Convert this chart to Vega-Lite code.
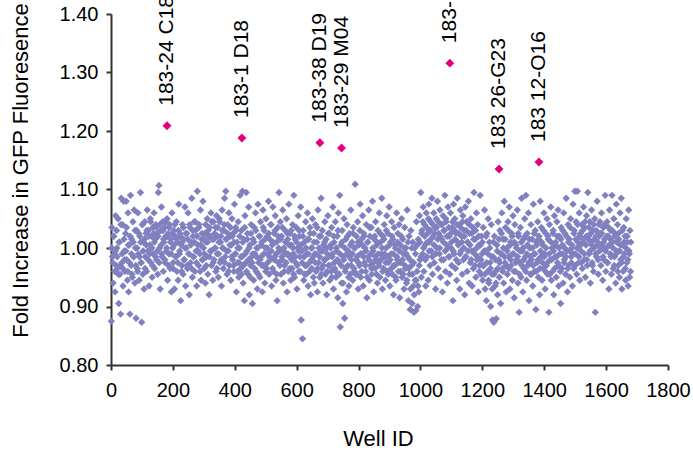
{
"$schema": "https://vega.github.io/schema/vega-lite/v6.json",
"width": 557,
"height": 351,
"autosize": "none",
"padding": {"left": 111, "top": 14, "right": 25, "bottom": 94},
"config": {
  "view": {"stroke": null},
  "font": "Liberation Sans",
  "axis": {"grid": false, "domainColor": "#333333", "domainWidth": 2, "tickColor": "#333333", "tickWidth": 2, "tickSize": 5, "labelFont": "Liberation Sans", "labelFontSize": 20, "labelColor": "#000000", "labelFlush": false, "labelOverlap": false, "titleFont": "Liberation Sans", "titleFontSize": 22, "titleFontWeight": "normal", "titleColor": "#000000"}
},
"datasets": {
"hits": [
{"well": 181, "fold": 1.209, "label": "183-24 C18"},
{"well": 423, "fold": 1.188, "label": "183-1 D18"},
{"well": 675, "fold": 1.180, "label": "183-38 D19"},
{"well": 745, "fold": 1.171, "label": "183-29 M04"},
{"well": 1095, "fold": 1.316, "label": "183-2"},
{"well": 1254, "fold": 1.135, "label": "183 26-G23"},
{"well": 1383, "fold": 1.147, "label": "183 12-O16"}
],
"wells": [
{"well":1,"fold":0.875},{"well":3,"fold":1.035},{"well":5,"fold":0.985},{"well":7,"fold":0.94},{"well":9,"fold":1.02},{"well":11,"fold":0.99},{"well":13,"fold":0.925},{"well":15,"fold":1.055},{"well":17,"fold":0.97},{"well":19,"fold":1.0},
{"well":21,"fold":0.965},{"well":23,"fold":1.05},{"well":25,"fold":0.905},{"well":27,"fold":1.01},{"well":29,"fold":0.955},{"well":31,"fold":0.887},{"well":33,"fold":1.085},{"well":35,"fold":0.975},{"well":37,"fold":1.04},{"well":39,"fold":0.935},
{"well":41,"fold":1.08},{"well":43,"fold":0.995},{"well":45,"fold":0.96},{"well":47,"fold":1.025},{"well":49,"fold":1.08},{"well":51,"fold":0.98},{"well":53,"fold":0.945},{"well":55,"fold":1.06},{"well":57,"fold":0.925},{"well":59,"fold":1.005},
{"well":61,"fold":0.887},{"well":63,"fold":1.09},{"well":65,"fold":0.97},{"well":67,"fold":1.015},{"well":69,"fold":0.95},{"well":71,"fold":1.045},{"well":73,"fold":0.985},{"well":75,"fold":1.065},{"well":77,"fold":0.94},{"well":79,"fold":1.0},
{"well":81,"fold":0.88},{"well":83,"fold":1.03},{"well":85,"fold":0.965},{"well":87,"fold":1.06},{"well":89,"fold":0.99},{"well":91,"fold":0.945},{"well":93,"fold":1.02},{"well":95,"fold":1.095},{"well":97,"fold":0.975},{"well":99,"fold":0.873},
{"well":101,"fold":1.04},{"well":103,"fold":0.955},{"well":105,"fold":1.01},{"well":107,"fold":0.93},{"well":109,"fold":1.045},{"well":111,"fold":0.985},{"well":113,"fold":1.025},{"well":115,"fold":0.96},{"well":117,"fold":1.065},{"well":119,"fold":0.995},
{"well":121,"fold":1.03},{"well":123,"fold":0.935},{"well":125,"fold":1.005},{"well":127,"fold":1.05},{"well":129,"fold":0.975},{"well":131,"fold":1.02},{"well":133,"fold":0.95},{"well":135,"fold":1.035},{"well":137,"fold":0.99},{"well":139,"fold":1.06},
{"well":141,"fold":0.965},{"well":143,"fold":1.015},{"well":145,"fold":1.04},{"well":147,"fold":0.98},{"well":149,"fold":1.025},{"well":151,"fold":0.955},{"well":153,"fold":1.095},{"well":155,"fold":1.107},{"well":157,"fold":1.0},{"well":159,"fold":0.93},
{"well":161,"fold":1.03},{"well":163,"fold":1.07},{"well":165,"fold":0.985},{"well":167,"fold":1.045},{"well":169,"fold":0.96},{"well":171,"fold":1.01},{"well":173,"fold":1.035},{"well":175,"fold":0.975},{"well":177,"fold":1.02},{"well":179,"fold":0.995},
{"well":181,"fold":1.05},{"well":183,"fold":0.945},{"well":185,"fold":1.025},{"well":187,"fold":0.99},{"well":189,"fold":1.04},{"well":191,"fold":0.965},{"well":193,"fold":1.015},{"well":195,"fold":0.925},{"well":197,"fold":1.06},{"well":199,"fold":1.0},
{"well":201,"fold":0.975},{"well":203,"fold":1.03},{"well":205,"fold":0.93},{"well":207,"fold":1.02},{"well":209,"fold":0.985},{"well":211,"fold":1.045},{"well":213,"fold":0.96},{"well":215,"fold":1.01},{"well":217,"fold":0.945},{"well":219,"fold":1.075},
{"well":221,"fold":0.99},{"well":223,"fold":1.025},{"well":225,"fold":0.91},{"well":227,"fold":1.005},{"well":229,"fold":0.97},{"well":231,"fold":1.04},{"well":233,"fold":0.955},{"well":235,"fold":1.015},{"well":237,"fold":0.98},{"well":239,"fold":1.07},
{"well":241,"fold":0.935},{"well":243,"fold":1.0},{"well":245,"fold":1.025},{"well":247,"fold":0.965},{"well":249,"fold":1.06},{"well":251,"fold":0.99},{"well":253,"fold":0.92},{"well":255,"fold":1.035},{"well":257,"fold":0.975},{"well":259,"fold":1.01},
{"well":261,"fold":1.085},{"well":263,"fold":0.95},{"well":265,"fold":1.02},{"well":267,"fold":0.985},{"well":269,"fold":1.045},{"well":271,"fold":0.96},{"well":273,"fold":1.03},{"well":275,"fold":0.995},{"well":277,"fold":0.935},{"well":279,"fold":1.097},
{"well":281,"fold":1.005},{"well":283,"fold":0.97},{"well":285,"fold":1.04},{"well":287,"fold":0.99},{"well":289,"fold":1.065},{"well":291,"fold":0.945},{"well":293,"fold":1.015},{"well":295,"fold":0.98},{"well":297,"fold":1.08},{"well":299,"fold":1.0},
{"well":301,"fold":0.965},{"well":303,"fold":1.025},{"well":305,"fold":0.94},{"well":307,"fold":1.01},{"well":309,"fold":0.985},{"well":311,"fold":1.05},{"well":313,"fold":0.955},{"well":315,"fold":1.02},{"well":317,"fold":0.92},{"well":319,"fold":1.035},
{"well":321,"fold":0.995},{"well":323,"fold":1.06},{"well":325,"fold":0.97},{"well":327,"fold":1.015},{"well":329,"fold":0.945},{"well":331,"fold":1.045},{"well":333,"fold":0.98},{"well":335,"fold":1.025},{"well":337,"fold":1.0},{"well":339,"fold":0.96},
{"well":341,"fold":1.055},{"well":343,"fold":0.99},{"well":345,"fold":1.035},{"well":347,"fold":0.95},{"well":349,"fold":1.01},{"well":351,"fold":1.045},{"well":353,"fold":0.975},{"well":355,"fold":1.02},{"well":357,"fold":0.935},{"well":359,"fold":1.065},
{"well":361,"fold":1.0},{"well":363,"fold":0.965},{"well":365,"fold":1.03},{"well":367,"fold":1.085},{"well":369,"fold":0.985},{"well":371,"fold":1.097},{"well":373,"fold":1.015},{"well":375,"fold":0.955},{"well":377,"fold":1.04},{"well":379,"fold":0.995},
{"well":381,"fold":1.06},{"well":383,"fold":0.97},{"well":385,"fold":1.02},{"well":387,"fold":0.945},{"well":389,"fold":1.005},{"well":391,"fold":1.05},{"well":393,"fold":0.98},{"well":395,"fold":1.025},{"well":397,"fold":0.96},{"well":399,"fold":1.075},
{"well":401,"fold":0.99},{"well":403,"fold":1.035},{"well":405,"fold":0.925},{"well":407,"fold":1.01},{"well":409,"fold":0.975},{"well":411,"fold":1.045},{"well":413,"fold":0.95},{"well":415,"fold":1.0},{"well":417,"fold":1.09},{"well":419,"fold":0.965},
{"well":421,"fold":1.03},{"well":423,"fold":0.985},{"well":425,"fold":1.097},{"well":427,"fold":0.94},{"well":429,"fold":1.015},{"well":431,"fold":0.91},{"well":433,"fold":1.055},{"well":435,"fold":0.975},{"well":437,"fold":1.095},{"well":439,"fold":0.995},
{"well":441,"fold":1.025},{"well":443,"fold":0.955},{"well":445,"fold":1.07},{"well":447,"fold":0.92},{"well":449,"fold":1.005},{"well":451,"fold":0.97},{"well":453,"fold":1.04},{"well":455,"fold":0.985},{"well":457,"fold":0.905},{"well":459,"fold":1.015},
{"well":461,"fold":0.945},{"well":463,"fold":1.035},{"well":465,"fold":0.99},{"well":467,"fold":1.06},{"well":469,"fold":0.96},{"well":471,"fold":1.0},{"well":473,"fold":0.93},{"well":475,"fold":1.075},{"well":477,"fold":0.975},{"well":479,"fold":1.02},
{"well":481,"fold":0.95},{"well":483,"fold":1.045},{"well":485,"fold":0.985},{"well":487,"fold":1.01},{"well":489,"fold":0.925},{"well":491,"fold":1.065},{"well":493,"fold":0.97},{"well":495,"fold":1.03},{"well":497,"fold":0.94},{"well":499,"fold":1.0},
{"well":501,"fold":1.05},{"well":503,"fold":0.965},{"well":505,"fold":1.02},{"well":507,"fold":0.99},{"well":509,"fold":1.08},{"well":511,"fold":0.955},{"well":513,"fold":1.015},{"well":515,"fold":0.98},{"well":517,"fold":1.04},{"well":519,"fold":0.935},
{"well":521,"fold":1.005},{"well":523,"fold":1.07},{"well":525,"fold":0.96},{"well":527,"fold":1.025},{"well":529,"fold":0.985},{"well":531,"fold":1.055},{"well":533,"fold":0.945},{"well":535,"fold":1.01},{"well":537,"fold":0.91},{"well":539,"fold":1.035},
{"well":541,"fold":0.975},{"well":543,"fold":1.095},{"well":545,"fold":0.995},{"well":547,"fold":1.045},{"well":549,"fold":0.955},{"well":551,"fold":1.02},{"well":553,"fold":0.98},{"well":555,"fold":1.065},{"well":557,"fold":0.94},{"well":559,"fold":1.0},
{"well":561,"fold":0.97},{"well":563,"fold":1.03},{"well":565,"fold":0.99},{"well":567,"fold":1.05},{"well":569,"fold":0.925},{"well":571,"fold":1.015},{"well":573,"fold":0.96},{"well":575,"fold":1.075},{"well":577,"fold":0.985},{"well":579,"fold":1.025},
{"well":581,"fold":0.945},{"well":583,"fold":1.005},{"well":585,"fold":0.965},{"well":587,"fold":1.04},{"well":589,"fold":0.99},{"well":591,"fold":1.09},{"well":593,"fold":0.95},{"well":595,"fold":1.015},{"well":597,"fold":0.975},{"well":599,"fold":1.035},
{"well":601,"fold":0.93},{"well":603,"fold":1.0},{"well":605,"fold":1.055},{"well":607,"fold":0.96},{"well":609,"fold":1.02},{"well":611,"fold":0.985},{"well":613,"fold":1.07},{"well":615,"fold":0.877},{"well":617,"fold":0.995},{"well":619,"fold":0.845},
{"well":621,"fold":1.03},{"well":623,"fold":0.945},{"well":625,"fold":1.01},{"well":627,"fold":0.97},{"well":629,"fold":1.045},{"well":631,"fold":0.955},{"well":633,"fold":0.99},{"well":635,"fold":1.06},{"well":637,"fold":0.935},{"well":639,"fold":1.015},
{"well":641,"fold":0.975},{"well":643,"fold":1.035},{"well":645,"fold":0.92},{"well":647,"fold":1.0},{"well":649,"fold":0.965},{"well":651,"fold":1.05},{"well":653,"fold":0.985},{"well":655,"fold":1.025},{"well":657,"fold":0.94},{"well":659,"fold":0.99},
{"well":661,"fold":1.04},{"well":663,"fold":0.96},{"well":665,"fold":1.01},{"well":667,"fold":0.925},{"well":669,"fold":1.065},{"well":671,"fold":0.975},{"well":673,"fold":1.02},{"well":675,"fold":0.95},{"well":677,"fold":0.995},{"well":679,"fold":1.085},
{"well":681,"fold":0.965},{"well":683,"fold":1.03},{"well":685,"fold":0.94},{"well":687,"fold":1.005},{"well":689,"fold":0.98},{"well":691,"fold":1.045},{"well":693,"fold":0.955},{"well":695,"fold":1.015},{"well":697,"fold":0.92},{"well":699,"fold":0.99},
{"well":701,"fold":1.055},{"well":703,"fold":0.97},{"well":705,"fold":1.025},{"well":707,"fold":0.945},{"well":709,"fold":1.0},{"well":711,"fold":0.96},{"well":713,"fold":1.035},{"well":715,"fold":0.985},{"well":717,"fold":1.07},{"well":719,"fold":0.93},
{"well":721,"fold":1.01},{"well":723,"fold":0.965},{"well":725,"fold":1.045},{"well":727,"fold":0.95},{"well":729,"fold":0.995},{"well":731,"fold":1.02},{"well":733,"fold":0.915},{"well":735,"fold":1.06},{"well":737,"fold":0.975},{"well":739,"fold":1.09},
{"well":741,"fold":0.865},{"well":743,"fold":1.005},{"well":745,"fold":0.94},{"well":747,"fold":1.03},{"well":749,"fold":0.905},{"well":751,"fold":0.985},{"well":753,"fold":1.05},{"well":755,"fold":0.88},{"well":757,"fold":0.96},{"well":759,"fold":1.015},
{"well":761,"fold":0.925},{"well":763,"fold":1.04},{"well":765,"fold":0.97},{"well":767,"fold":0.995},{"well":769,"fold":0.935},{"well":771,"fold":1.025},{"well":773,"fold":0.955},{"well":775,"fold":1.065},{"well":777,"fold":0.98},{"well":779,"fold":1.01},
{"well":781,"fold":0.945},{"well":783,"fold":1.035},{"well":785,"fold":0.965},{"well":787,"fold":1.0},{"well":789,"fold":1.109},{"well":791,"fold":0.955},{"well":793,"fold":1.02},{"well":795,"fold":0.985},{"well":797,"fold":1.045},{"well":799,"fold":0.93},
{"well":801,"fold":1.005},{"well":803,"fold":0.97},{"well":805,"fold":1.075},{"well":807,"fold":0.95},{"well":809,"fold":1.015},{"well":811,"fold":0.99},{"well":813,"fold":1.055},{"well":815,"fold":0.935},{"well":817,"fold":1.025},{"well":819,"fold":0.975},
{"well":821,"fold":1.0},{"well":823,"fold":0.96},{"well":825,"fold":1.04},{"well":827,"fold":0.915},{"well":829,"fold":1.01},{"well":831,"fold":0.985},{"well":833,"fold":1.065},{"well":835,"fold":0.945},{"well":837,"fold":1.02},{"well":839,"fold":0.97},
{"well":841,"fold":1.035},{"well":843,"fold":0.955},{"well":845,"fold":1.08},{"well":847,"fold":0.995},{"well":849,"fold":0.925},{"well":851,"fold":1.015},{"well":853,"fold":0.965},{"well":855,"fold":1.045},{"well":857,"fold":0.98},{"well":859,"fold":1.005},
{"well":861,"fold":0.94},{"well":863,"fold":1.03},{"well":865,"fold":0.975},{"well":867,"fold":1.06},{"well":869,"fold":0.95},{"well":871,"fold":1.01},{"well":873,"fold":0.99},{"well":875,"fold":1.085},{"well":877,"fold":0.93},{"well":879,"fold":1.02},
{"well":881,"fold":0.965},{"well":883,"fold":1.04},{"well":885,"fold":0.985},{"well":887,"fold":0.945},{"well":889,"fold":1.0},{"well":891,"fold":1.055},{"well":893,"fold":0.96},{"well":895,"fold":1.025},{"well":897,"fold":0.975},{"well":899,"fold":1.07},
{"well":901,"fold":0.935},{"well":903,"fold":1.01},{"well":905,"fold":0.99},{"well":907,"fold":1.045},{"well":909,"fold":0.955},{"well":911,"fold":1.015},{"well":913,"fold":0.92},{"well":915,"fold":1.035},{"well":917,"fold":0.97},{"well":919,"fold":1.0},
{"well":921,"fold":0.945},{"well":923,"fold":1.06},{"well":925,"fold":0.98},{"well":927,"fold":1.025},{"well":929,"fold":0.96},{"well":931,"fold":1.04},{"well":933,"fold":0.915},{"well":935,"fold":1.005},{"well":937,"fold":0.975},{"well":939,"fold":1.05},
{"well":941,"fold":0.95},{"well":943,"fold":1.015},{"well":945,"fold":0.99},{"well":947,"fold":0.93},{"well":949,"fold":1.035},{"well":951,"fold":0.965},{"well":953,"fold":1.0},{"well":955,"fold":0.94},{"well":957,"fold":1.065},{"well":959,"fold":0.985},
{"well":961,"fold":0.91},{"well":963,"fold":1.02},{"well":965,"fold":0.955},{"well":967,"fold":0.895},{"well":969,"fold":1.03},{"well":971,"fold":0.97},{"well":973,"fold":0.905},{"well":975,"fold":1.01},{"well":977,"fold":0.935},{"well":979,"fold":0.89},
{"well":981,"fold":1.0},{"well":983,"fold":0.945},{"well":985,"fold":0.893},{"well":987,"fold":1.045},{"well":989,"fold":0.96},{"well":991,"fold":0.9},{"well":993,"fold":1.015},{"well":995,"fold":0.925},{"well":997,"fold":1.055},{"well":999,"fold":0.98},
{"well":1001,"fold":1.095},{"well":1003,"fold":0.95},{"well":1005,"fold":1.03},{"well":1007,"fold":0.99},{"well":1009,"fold":1.07},{"well":1011,"fold":0.96},{"well":1013,"fold":1.04},{"well":1015,"fold":1.005},{"well":1017,"fold":0.935},{"well":1019,"fold":1.06},
{"well":1021,"fold":0.985},{"well":1023,"fold":1.025},{"well":1025,"fold":0.945},{"well":1027,"fold":1.075},{"well":1029,"fold":1.01},{"well":1031,"fold":0.97},{"well":1033,"fold":1.045},{"well":1035,"fold":0.995},{"well":1037,"fold":1.085},{"well":1039,"fold":0.955},
{"well":1041,"fold":1.02},{"well":1043,"fold":1.06},{"well":1045,"fold":0.975},{"well":1047,"fold":1.035},{"well":1049,"fold":0.93},{"well":1051,"fold":1.05},{"well":1053,"fold":1.0},{"well":1055,"fold":1.08},{"well":1057,"fold":0.965},{"well":1059,"fold":1.025},
{"well":1061,"fold":0.99},{"well":1063,"fold":1.065},{"well":1065,"fold":0.95},{"well":1067,"fold":1.04},{"well":1069,"fold":1.015},{"well":1071,"fold":0.925},{"well":1073,"fold":1.055},{"well":1075,"fold":0.98},{"well":1077,"fold":1.03},{"well":1079,"fold":1.09},
{"well":1081,"fold":0.96},{"well":1083,"fold":1.045},{"well":1085,"fold":1.005},{"well":1087,"fold":0.94},{"well":1089,"fold":1.07},{"well":1091,"fold":0.985},{"well":1093,"fold":1.02},{"well":1095,"fold":0.955},{"well":1097,"fold":1.06},{"well":1099,"fold":1.0},
{"well":1101,"fold":0.97},{"well":1103,"fold":1.035},{"well":1105,"fold":0.91},{"well":1107,"fold":1.075},{"well":1109,"fold":0.99},{"well":1111,"fold":1.05},{"well":1113,"fold":0.965},{"well":1115,"fold":1.025},{"well":1117,"fold":0.945},{"well":1119,"fold":1.085},
{"well":1121,"fold":1.01},{"well":1123,"fold":0.975},{"well":1125,"fold":1.04},{"well":1127,"fold":0.93},{"well":1129,"fold":1.065},{"well":1131,"fold":0.995},{"well":1133,"fold":1.02},{"well":1135,"fold":0.955},{"well":1137,"fold":1.055},{"well":1139,"fold":0.98},
{"well":1141,"fold":1.03},{"well":1143,"fold":0.92},{"well":1145,"fold":1.07},{"well":1147,"fold":0.985},{"well":1149,"fold":1.045},{"well":1151,"fold":0.96},{"well":1153,"fold":1.01},{"well":1155,"fold":1.08},{"well":1157,"fold":0.94},{"well":1159,"fold":1.025},
{"well":1161,"fold":0.975},{"well":1163,"fold":1.05},{"well":1165,"fold":0.995},{"well":1167,"fold":0.935},{"well":1169,"fold":1.035},{"well":1171,"fold":0.965},{"well":1173,"fold":1.095},{"well":1175,"fold":0.99},{"well":1177,"fold":1.015},{"well":1179,"fold":0.95},
{"well":1181,"fold":1.06},{"well":1183,"fold":0.98},{"well":1185,"fold":1.04},{"well":1187,"fold":0.925},{"well":1189,"fold":1.005},{"well":1191,"fold":0.97},{"well":1193,"fold":1.09},{"well":1195,"fold":0.955},{"well":1197,"fold":1.02},{"well":1199,"fold":0.99},
{"well":1201,"fold":0.945},{"well":1203,"fold":1.035},{"well":1205,"fold":0.97},{"well":1207,"fold":1.065},{"well":1209,"fold":0.93},{"well":1211,"fold":0.995},{"well":1213,"fold":0.91},{"well":1215,"fold":1.025},{"well":1217,"fold":0.96},{"well":1219,"fold":1.05},
{"well":1221,"fold":0.94},{"well":1223,"fold":1.01},{"well":1225,"fold":0.975},{"well":1227,"fold":0.9},{"well":1229,"fold":1.04},{"well":1231,"fold":0.955},{"well":1233,"fold":0.877},{"well":1235,"fold":0.985},{"well":1237,"fold":0.873},{"well":1239,"fold":1.02},
{"well":1241,"fold":0.935},{"well":1243,"fold":0.96},{"well":1245,"fold":0.879},{"well":1247,"fold":1.005},{"well":1249,"fold":0.92},{"well":1251,"fold":1.045},{"well":1253,"fold":0.98},{"well":1255,"fold":0.95},{"well":1257,"fold":1.03},{"well":1259,"fold":0.905},
{"well":1261,"fold":0.99},{"well":1263,"fold":1.06},{"well":1265,"fold":0.965},{"well":1267,"fold":1.015},{"well":1269,"fold":0.94},{"well":1271,"fold":1.08},{"well":1273,"fold":0.975},{"well":1275,"fold":1.035},{"well":1277,"fold":0.925},{"well":1279,"fold":1.0},
{"well":1281,"fold":0.955},{"well":1283,"fold":1.045},{"well":1285,"fold":0.985},{"well":1287,"fold":1.07},{"well":1289,"fold":0.93},{"well":1291,"fold":1.01},{"well":1293,"fold":0.97},{"well":1295,"fold":1.025},{"well":1297,"fold":0.945},{"well":1299,"fold":1.055},
{"well":1301,"fold":0.99},{"well":1303,"fold":0.915},{"well":1305,"fold":1.04},{"well":1307,"fold":0.96},{"well":1309,"fold":1.005},{"well":1311,"fold":0.98},{"well":1313,"fold":1.065},{"well":1315,"fold":0.94},{"well":1317,"fold":1.02},{"well":1319,"fold":0.89},
{"well":1321,"fold":0.975},{"well":1323,"fold":1.035},{"well":1325,"fold":0.95},{"well":1327,"fold":1.085},{"well":1329,"fold":0.995},{"well":1331,"fold":0.925},{"well":1333,"fold":1.015},{"well":1335,"fold":0.965},{"well":1337,"fold":1.05},{"well":1339,"fold":0.985},
{"well":1341,"fold":1.09},{"well":1343,"fold":0.945},{"well":1345,"fold":1.025},{"well":1347,"fold":0.97},{"well":1349,"fold":1.06},{"well":1351,"fold":0.91},{"well":1353,"fold":1.0},{"well":1355,"fold":0.955},{"well":1357,"fold":1.04},{"well":1359,"fold":0.98},
{"well":1361,"fold":1.015},{"well":1363,"fold":0.935},{"well":1365,"fold":1.075},{"well":1367,"fold":0.99},{"well":1369,"fold":0.96},{"well":1371,"fold":1.03},{"well":1373,"fold":0.895},{"well":1375,"fold":1.01},{"well":1377,"fold":0.975},{"well":1379,"fold":1.045},
{"well":1381,"fold":0.95},{"well":1383,"fold":1.02},{"well":1385,"fold":0.92},{"well":1387,"fold":1.08},{"well":1389,"fold":0.985},{"well":1391,"fold":1.035},{"well":1393,"fold":0.945},{"well":1395,"fold":1.005},{"well":1397,"fold":0.965},{"well":1399,"fold":1.06},
{"well":1401,"fold":0.99},{"well":1403,"fold":0.93},{"well":1405,"fold":1.025},{"well":1407,"fold":0.97},{"well":1409,"fold":1.05},{"well":1411,"fold":0.955},{"well":1413,"fold":1.015},{"well":1415,"fold":0.89},{"well":1417,"fold":1.04},{"well":1419,"fold":0.98},
{"well":1421,"fold":1.07},{"well":1423,"fold":0.945},{"well":1425,"fold":1.0},{"well":1427,"fold":0.96},{"well":1429,"fold":1.03},{"well":1431,"fold":0.92},{"well":1433,"fold":1.055},{"well":1435,"fold":0.985},{"well":1437,"fold":1.01},{"well":1439,"fold":0.95},
{"well":1441,"fold":1.045},{"well":1443,"fold":0.975},{"well":1445,"fold":1.065},{"well":1447,"fold":0.935},{"well":1449,"fold":1.02},{"well":1451,"fold":0.99},{"well":1453,"fold":0.905},{"well":1455,"fold":1.035},{"well":1457,"fold":0.965},{"well":1459,"fold":1.005},
{"well":1461,"fold":0.94},{"well":1463,"fold":1.06},{"well":1465,"fold":0.98},{"well":1467,"fold":1.025},{"well":1469,"fold":0.955},{"well":1471,"fold":1.085},{"well":1473,"fold":0.995},{"well":1475,"fold":0.925},{"well":1477,"fold":1.04},{"well":1479,"fold":0.97},
{"well":1481,"fold":1.015},{"well":1483,"fold":0.95},{"well":1485,"fold":1.05},{"well":1487,"fold":0.985},{"well":1489,"fold":1.0},{"well":1491,"fold":0.935},{"well":1493,"fold":1.075},{"well":1495,"fold":0.965},{"well":1497,"fold":1.03},{"well":1499,"fold":1.097},
{"well":1501,"fold":0.99},{"well":1503,"fold":1.045},{"well":1505,"fold":0.955},{"well":1507,"fold":1.097},{"well":1509,"fold":1.01},{"well":1511,"fold":0.975},{"well":1513,"fold":1.06},{"well":1515,"fold":0.945},{"well":1517,"fold":1.025},{"well":1519,"fold":0.995},
{"well":1521,"fold":1.04},{"well":1523,"fold":0.965},{"well":1525,"fold":1.015},{"well":1527,"fold":1.07},{"well":1529,"fold":0.98},{"well":1531,"fold":1.035},{"well":1533,"fold":0.95},{"well":1535,"fold":1.005},{"well":1537,"fold":1.055},{"well":1539,"fold":0.97},
{"well":1541,"fold":1.095},{"well":1543,"fold":1.02},{"well":1545,"fold":0.99},{"well":1547,"fold":1.045},{"well":1549,"fold":0.94},{"well":1551,"fold":1.01},{"well":1553,"fold":1.065},{"well":1555,"fold":0.975},{"well":1557,"fold":1.03},{"well":1559,"fold":0.96},
{"well":1561,"fold":1.0},{"well":1563,"fold":1.05},{"well":1565,"fold":0.89},{"well":1567,"fold":1.02},{"well":1569,"fold":0.985},{"well":1571,"fold":1.08},{"well":1573,"fold":1.01},{"well":1575,"fold":0.955},{"well":1577,"fold":1.04},{"well":1579,"fold":0.995},
{"well":1581,"fold":1.025},{"well":1583,"fold":0.97},{"well":1585,"fold":1.06},{"well":1587,"fold":1.005},{"well":1589,"fold":0.945},{"well":1591,"fold":1.035},{"well":1593,"fold":0.98},{"well":1595,"fold":1.015},{"well":1597,"fold":1.09},{"well":1599,"fold":0.96},
{"well":1601,"fold":1.0},{"well":1603,"fold":1.045},{"well":1605,"fold":0.975},{"well":1607,"fold":1.02},{"well":1609,"fold":0.93},{"well":1611,"fold":1.065},{"well":1613,"fold":0.99},{"well":1615,"fold":1.03},{"well":1617,"fold":0.955},{"well":1619,"fold":1.09},
{"well":1621,"fold":1.01},{"well":1623,"fold":0.965},{"well":1625,"fold":1.05},{"well":1627,"fold":0.985},{"well":1629,"fold":1.025},{"well":1631,"fold":0.94},{"well":1633,"fold":1.075},{"well":1635,"fold":0.995},{"well":1637,"fold":1.04},{"well":1639,"fold":0.97},
{"well":1641,"fold":1.015},{"well":1643,"fold":0.95},{"well":1645,"fold":1.06},{"well":1647,"fold":0.98},{"well":1649,"fold":1.085},{"well":1651,"fold":0.93},{"well":1653,"fold":1.005},{"well":1655,"fold":0.96},{"well":1657,"fold":1.035},{"well":1659,"fold":0.99},
{"well":1661,"fold":1.02},{"well":1663,"fold":0.945},{"well":1665,"fold":1.05},{"well":1667,"fold":0.975},{"well":1669,"fold":1.01},{"well":1671,"fold":0.935},{"well":1673,"fold":1.065},{"well":1675,"fold":0.99},{"well":1677,"fold":1.03},{"well":1679,"fold":0.96},
{"well":2,"fold":1.0},{"well":6,"fold":0.975},{"well":8,"fold":1.02},{"well":12,"fold":0.96},{"well":14,"fold":0.995},{"well":18,"fold":1.03},{"well":20,"fold":0.985},{"well":24,"fold":0.955},{"well":26,"fold":1.01},{"well":30,"fold":0.97},
{"well":32,"fold":1.04},{"well":36,"fold":0.99},{"well":38,"fold":0.965},{"well":42,"fold":1.015},{"well":44,"fold":0.98},{"well":48,"fold":0.995},{"well":50,"fold":1.035},{"well":54,"fold":0.96},{"well":56,"fold":1.005},{"well":60,"fold":0.975},
{"well":62,"fold":1.02},{"well":66,"fold":0.99},{"well":68,"fold":0.955},{"well":72,"fold":1.01},{"well":74,"fold":0.985},{"well":78,"fold":1.03},{"well":80,"fold":0.97},{"well":84,"fold":1.0},{"well":86,"fold":0.96},{"well":90,"fold":1.025},
{"well":92,"fold":0.985},{"well":96,"fold":1.01},{"well":98,"fold":0.975},{"well":102,"fold":1.04},{"well":104,"fold":0.995},{"well":108,"fold":1.015},{"well":110,"fold":0.965},{"well":114,"fold":1.005},{"well":116,"fold":1.03},{"well":120,"fold":0.98},
{"well":122,"fold":1.02},{"well":126,"fold":0.99},{"well":128,"fold":1.045},{"well":132,"fold":1.0},{"well":134,"fold":0.97},{"well":138,"fold":1.025},{"well":140,"fold":1.01},{"well":144,"fold":0.985},{"well":146,"fold":1.035},{"well":150,"fold":0.995},
{"well":152,"fold":1.02},{"well":156,"fold":0.975},{"well":158,"fold":1.04},{"well":162,"fold":1.005},{"well":164,"fold":0.99},{"well":168,"fold":1.03},{"well":170,"fold":1.015},{"well":174,"fold":0.98},{"well":176,"fold":1.045},{"well":180,"fold":1.0},
{"well":182,"fold":1.02},{"well":186,"fold":0.97},{"well":188,"fold":1.035},{"well":192,"fold":1.01},{"well":194,"fold":0.99},{"well":198,"fold":1.025},{"well":200,"fold":0.965},{"well":204,"fold":1.005},{"well":206,"fold":1.04},{"well":210,"fold":0.985},
{"well":212,"fold":1.015},{"well":216,"fold":0.975},{"well":218,"fold":1.03},{"well":222,"fold":0.995},{"well":224,"fold":1.02},{"well":228,"fold":0.96},{"well":230,"fold":1.01},{"well":234,"fold":1.035},{"well":236,"fold":0.98},{"well":240,"fold":1.0},
{"well":242,"fold":1.025},{"well":246,"fold":0.97},{"well":248,"fold":1.015},{"well":252,"fold":0.99},{"well":254,"fold":1.04},{"well":258,"fold":1.005},{"well":260,"fold":0.965},{"well":264,"fold":1.03},{"well":266,"fold":0.985},{"well":270,"fold":1.01},
{"well":272,"fold":1.045},{"well":276,"fold":0.975},{"well":278,"fold":1.02},{"well":282,"fold":0.995},{"well":284,"fold":1.035},{"well":288,"fold":0.96},{"well":290,"fold":1.005},{"well":294,"fold":1.025},{"well":296,"fold":0.98},{"well":300,"fold":1.015},
{"well":302,"fold":0.99},{"well":306,"fold":1.04},{"well":308,"fold":0.97},{"well":312,"fold":1.01},{"well":314,"fold":1.03},{"well":318,"fold":0.985},{"well":320,"fold":1.02},{"well":324,"fold":0.995},{"well":326,"fold":1.045},{"well":330,"fold":0.975},
{"well":332,"fold":1.015},{"well":336,"fold":1.0},{"well":338,"fold":1.035},{"well":342,"fold":0.965},{"well":344,"fold":1.02},{"well":348,"fold":0.99},{"well":350,"fold":1.05},{"well":354,"fold":1.01},{"well":356,"fold":0.98},{"well":360,"fold":1.03},
{"well":362,"fold":1.0},{"well":366,"fold":1.04},{"well":368,"fold":0.975},{"well":372,"fold":1.015},{"well":374,"fold":0.995},{"well":378,"fold":1.025},{"well":380,"fold":0.96},{"well":384,"fold":1.005},{"well":386,"fold":1.035},{"well":390,"fold":0.985},
{"well":392,"fold":1.02},{"well":396,"fold":0.97},{"well":398,"fold":1.01},{"well":402,"fold":0.99},{"well":404,"fold":1.03},{"well":408,"fold":0.96},{"well":410,"fold":1.0},{"well":414,"fold":0.975},{"well":416,"fold":1.02},{"well":420,"fold":0.985},
{"well":422,"fold":0.955},{"well":426,"fold":1.01},{"well":428,"fold":0.97},{"well":432,"fold":1.035},{"well":434,"fold":0.99},{"well":438,"fold":0.96},{"well":440,"fold":1.015},{"well":444,"fold":0.98},{"well":446,"fold":1.0},{"well":450,"fold":0.95},
{"well":452,"fold":1.025},{"well":456,"fold":0.975},{"well":458,"fold":0.99},{"well":462,"fold":1.01},{"well":464,"fold":0.965},{"well":468,"fold":1.03},{"well":470,"fold":0.985},{"well":474,"fold":1.0},{"well":476,"fold":0.955},{"well":480,"fold":1.02},
{"well":482,"fold":0.98},{"well":486,"fold":1.005},{"well":488,"fold":0.97},{"well":492,"fold":1.035},{"well":494,"fold":0.99},{"well":498,"fold":1.015},{"well":500,"fold":0.96},{"well":504,"fold":1.0},{"well":506,"fold":0.975},{"well":510,"fold":1.025},
{"well":512,"fold":0.985},{"well":516,"fold":1.04},{"well":518,"fold":0.995},{"well":522,"fold":0.965},{"well":524,"fold":1.01},{"well":528,"fold":0.98},{"well":530,"fold":1.03},{"well":534,"fold":0.99},{"well":536,"fold":0.955},{"well":540,"fold":1.02},
{"well":542,"fold":1.0},{"well":546,"fold":0.97},{"well":548,"fold":1.015},{"well":552,"fold":0.985},{"well":554,"fold":1.035},{"well":558,"fold":0.995},{"well":560,"fold":0.96},{"well":564,"fold":1.01},{"well":566,"fold":0.975},{"well":570,"fold":1.025},
{"well":572,"fold":0.99},{"well":576,"fold":1.005},{"well":578,"fold":0.965},{"well":582,"fold":1.03},{"well":584,"fold":0.98},{"well":588,"fold":1.0},{"well":590,"fold":0.955},{"well":594,"fold":1.02},{"well":596,"fold":0.985},{"well":600,"fold":1.01},
{"well":602,"fold":0.97},{"well":606,"fold":0.995},{"well":608,"fold":1.03},{"well":612,"fold":0.96},{"well":614,"fold":1.005},{"well":618,"fold":0.975},{"well":620,"fold":1.02},{"well":624,"fold":0.985},{"well":626,"fold":0.955},{"well":630,"fold":1.0},
{"well":632,"fold":0.97},{"well":636,"fold":1.015},{"well":638,"fold":0.99},{"well":642,"fold":0.96},{"well":644,"fold":1.025},{"well":648,"fold":0.98},{"well":650,"fold":1.0},{"well":654,"fold":0.95},{"well":656,"fold":1.01},{"well":660,"fold":0.975},
{"well":662,"fold":0.99},{"well":666,"fold":1.035},{"well":668,"fold":0.965},{"well":672,"fold":1.0},{"well":674,"fold":0.985},{"well":678,"fold":1.02},{"well":680,"fold":0.955},{"well":684,"fold":0.995},{"well":686,"fold":0.97},{"well":690,"fold":1.01},
{"well":692,"fold":0.98},{"well":696,"fold":1.0},{"well":698,"fold":0.96},{"well":702,"fold":1.025},{"well":704,"fold":0.985},{"well":708,"fold":0.97},{"well":710,"fold":1.005},{"well":714,"fold":0.95},{"well":716,"fold":0.99},{"well":720,"fold":1.02},
{"well":722,"fold":0.975},{"well":726,"fold":0.96},{"well":728,"fold":1.0},{"well":732,"fold":0.98},{"well":734,"fold":1.03},{"well":738,"fold":0.955},{"well":740,"fold":0.99},{"well":744,"fold":0.97},{"well":746,"fold":1.01},{"well":750,"fold":0.94},
{"well":752,"fold":0.98},{"well":756,"fold":1.0},{"well":758,"fold":0.965},{"well":762,"fold":0.99},{"well":764,"fold":1.02},{"well":768,"fold":0.95},{"well":770,"fold":0.985},{"well":774,"fold":1.005},{"well":776,"fold":0.97},{"well":780,"fold":0.99},
{"well":782,"fold":1.025},{"well":786,"fold":0.96},{"well":788,"fold":1.0},{"well":792,"fold":0.98},{"well":794,"fold":0.955},{"well":798,"fold":1.01},{"well":800,"fold":0.975},{"well":804,"fold":1.03},{"well":806,"fold":0.99},{"well":810,"fold":0.96},
{"well":812,"fold":1.005},{"well":816,"fold":0.985},{"well":818,"fold":1.02},{"well":822,"fold":0.97},{"well":824,"fold":0.995},{"well":828,"fold":0.95},{"well":830,"fold":1.01},{"well":834,"fold":0.98},{"well":836,"fold":1.035},{"well":840,"fold":0.99},
{"well":842,"fold":0.965},{"well":846,"fold":1.0},{"well":848,"fold":0.975},{"well":852,"fold":1.02},{"well":854,"fold":0.985},{"well":858,"fold":0.955},{"well":860,"fold":1.01},{"well":864,"fold":0.99},{"well":866,"fold":0.97},{"well":870,"fold":1.025},
{"well":872,"fold":0.98},{"well":876,"fold":1.0},{"well":878,"fold":0.96},{"well":882,"fold":1.015},{"well":884,"fold":0.99},{"well":888,"fold":0.975},{"well":890,"fold":1.03},{"well":894,"fold":0.985},{"well":896,"fold":0.955},{"well":900,"fold":1.005},
{"well":902,"fold":0.98},{"well":906,"fold":0.965},{"well":908,"fold":1.02},{"well":912,"fold":0.99},{"well":914,"fold":0.97},{"well":918,"fold":1.005},{"well":920,"fold":0.95},{"well":924,"fold":0.985},{"well":926,"fold":1.01},{"well":930,"fold":0.975},
{"well":932,"fold":0.995},{"well":936,"fold":0.96},{"well":938,"fold":1.02},{"well":942,"fold":0.98},{"well":944,"fold":0.955},{"well":948,"fold":1.0},{"well":950,"fold":0.97},{"well":954,"fold":0.99},{"well":956,"fold":0.945},{"well":960,"fold":1.01},
{"well":962,"fold":0.965},{"well":966,"fold":0.98},{"well":968,"fold":0.93},{"well":972,"fold":1.0},{"well":974,"fold":0.955},{"well":978,"fold":0.975},{"well":980,"fold":0.92},{"well":984,"fold":0.99},{"well":986,"fold":0.945},{"well":990,"fold":1.005},
{"well":992,"fold":0.935},{"well":996,"fold":0.97},{"well":998,"fold":1.01},{"well":1002,"fold":0.985},{"well":1004,"fold":1.025},{"well":1008,"fold":1.045},{"well":1010,"fold":1.0},{"well":1014,"fold":1.02},{"well":1016,"fold":0.98},{"well":1020,"fold":1.035},
{"well":1022,"fold":1.01},{"well":1026,"fold":1.05},{"well":1028,"fold":0.995},{"well":1032,"fold":1.03},{"well":1034,"fold":1.015},{"well":1038,"fold":0.985},{"well":1040,"fold":1.04},{"well":1044,"fold":1.005},{"well":1046,"fold":1.025},{"well":1050,"fold":0.99},
{"well":1052,"fold":1.035},{"well":1056,"fold":1.015},{"well":1058,"fold":1.045},{"well":1062,"fold":1.0},{"well":1064,"fold":1.02},{"well":1068,"fold":0.98},{"well":1070,"fold":1.04},{"well":1074,"fold":1.01},{"well":1076,"fold":1.03},{"well":1080,"fold":0.995},
{"well":1082,"fold":1.05},{"well":1086,"fold":1.02},{"well":1088,"fold":1.0},{"well":1092,"fold":1.035},{"well":1094,"fold":0.985},{"well":1098,"fold":1.025},{"well":1100,"fold":1.01},{"well":1104,"fold":1.045},{"well":1106,"fold":0.995},{"well":1110,"fold":1.03},
{"well":1112,"fold":1.015},{"well":1116,"fold":0.98},{"well":1118,"fold":1.04},{"well":1122,"fold":1.005},{"well":1124,"fold":1.025},{"well":1128,"fold":0.99},{"well":1130,"fold":1.035},{"well":1134,"fold":1.01},{"well":1136,"fold":1.045},{"well":1140,"fold":1.0},
{"well":1142,"fold":1.02},{"well":1146,"fold":0.985},{"well":1148,"fold":1.03},{"well":1152,"fold":1.01},{"well":1154,"fold":0.995},{"well":1158,"fold":1.04},{"well":1160,"fold":1.005},{"well":1164,"fold":0.98},{"well":1166,"fold":1.025},{"well":1170,"fold":0.995},
{"well":1172,"fold":1.015},{"well":1176,"fold":0.97},{"well":1178,"fold":1.03},{"well":1182,"fold":1.0},{"well":1184,"fold":0.985},{"well":1188,"fold":1.02},{"well":1190,"fold":0.96},{"well":1194,"fold":1.005},{"well":1196,"fold":0.98},{"well":1200,"fold":1.01},
{"well":1202,"fold":0.97},{"well":1206,"fold":0.995},{"well":1208,"fold":0.955},{"well":1212,"fold":1.02},{"well":1214,"fold":0.975},{"well":1218,"fold":0.99},{"well":1220,"fold":0.945},{"well":1224,"fold":1.0},{"well":1226,"fold":0.965},{"well":1230,"fold":0.985},
{"well":1232,"fold":0.93},{"well":1236,"fold":1.01},{"well":1238,"fold":0.955},{"well":1242,"fold":0.98},{"well":1244,"fold":0.94},{"well":1248,"fold":0.995},{"well":1250,"fold":0.965},{"well":1254,"fold":1.015},{"well":1256,"fold":0.975},{"well":1260,"fold":0.99},
{"well":1262,"fold":1.025},{"well":1266,"fold":0.96},{"well":1268,"fold":1.0},{"well":1272,"fold":0.985},{"well":1274,"fold":1.015},{"well":1278,"fold":0.97},{"well":1280,"fold":0.995},{"well":1284,"fold":1.03},{"well":1286,"fold":0.965},{"well":1290,"fold":1.005},
{"well":1292,"fold":0.98},{"well":1296,"fold":1.02},{"well":1298,"fold":0.99},{"well":1302,"fold":0.96},{"well":1304,"fold":1.01},{"well":1308,"fold":0.975},{"well":1310,"fold":1.0},{"well":1314,"fold":0.985},{"well":1316,"fold":1.025},{"well":1320,"fold":0.955},
{"well":1322,"fold":0.995},{"well":1326,"fold":1.01},{"well":1328,"fold":0.97},{"well":1332,"fold":1.0},{"well":1334,"fold":0.98},{"well":1338,"fold":1.02},{"well":1340,"fold":0.96},{"well":1344,"fold":0.99},{"well":1346,"fold":1.005},{"well":1350,"fold":0.975},
{"well":1352,"fold":1.015},{"well":1356,"fold":0.985},{"well":1358,"fold":0.955},{"well":1362,"fold":1.0},{"well":1364,"fold":0.97},{"well":1368,"fold":1.025},{"well":1370,"fold":0.99},{"well":1374,"fold":0.96},{"well":1376,"fold":1.005},{"well":1380,"fold":0.98},
{"well":1382,"fold":1.015},{"well":1386,"fold":0.965},{"well":1388,"fold":0.995},{"well":1392,"fold":1.01},{"well":1394,"fold":0.975},{"well":1398,"fold":1.03},{"well":1400,"fold":0.985},{"well":1404,"fold":0.96},{"well":1406,"fold":1.0},{"well":1410,"fold":0.975},
{"well":1412,"fold":1.02},{"well":1416,"fold":0.99},{"well":1418,"fold":0.955},{"well":1422,"fold":1.01},{"well":1424,"fold":0.98},{"well":1428,"fold":1.025},{"well":1430,"fold":0.995},{"well":1434,"fold":0.965},{"well":1436,"fold":1.005},{"well":1440,"fold":0.985},
{"well":1442,"fold":1.02},{"well":1446,"fold":0.97},{"well":1448,"fold":1.0},{"well":1452,"fold":0.96},{"well":1454,"fold":1.015},{"well":1458,"fold":0.99},{"well":1460,"fold":1.03},{"well":1464,"fold":0.975},{"well":1466,"fold":1.0},{"well":1470,"fold":0.985},
{"well":1472,"fold":1.02},{"well":1476,"fold":0.965},{"well":1478,"fold":1.01},{"well":1482,"fold":0.995},{"well":1484,"fold":1.035},{"well":1488,"fold":0.975},{"well":1490,"fold":1.005},{"well":1494,"fold":0.99},{"well":1496,"fold":1.025},{"well":1500,"fold":0.97},
{"well":1502,"fold":1.015},{"well":1506,"fold":1.0},{"well":1508,"fold":1.04},{"well":1512,"fold":0.985},{"well":1514,"fold":1.02},{"well":1518,"fold":1.005},{"well":1520,"fold":0.975},{"well":1524,"fold":1.03},{"well":1526,"fold":1.01},{"well":1530,"fold":0.99},
{"well":1532,"fold":1.045},{"well":1536,"fold":1.02},{"well":1538,"fold":0.98},{"well":1542,"fold":1.015},{"well":1544,"fold":1.035},{"well":1548,"fold":0.995},{"well":1550,"fold":1.025},{"well":1554,"fold":1.005},{"well":1556,"fold":0.97},{"well":1560,"fold":1.04},
{"well":1562,"fold":1.015},{"well":1566,"fold":0.99},{"well":1568,"fold":1.03},{"well":1572,"fold":1.005},{"well":1574,"fold":0.98},{"well":1578,"fold":1.02},{"well":1580,"fold":1.045},{"well":1584,"fold":1.0},{"well":1586,"fold":1.025},{"well":1590,"fold":0.985},
{"well":1592,"fold":1.01},{"well":1596,"fold":1.04},{"well":1598,"fold":0.995},{"well":1602,"fold":1.02},{"well":1604,"fold":0.975},{"well":1608,"fold":1.035},{"well":1610,"fold":1.005},{"well":1614,"fold":1.015},{"well":1616,"fold":0.985},{"well":1620,"fold":1.03},
{"well":1622,"fold":1.0},{"well":1626,"fold":0.97},{"well":1628,"fold":1.02},{"well":1632,"fold":0.99},{"well":1634,"fold":1.01},{"well":1638,"fold":0.96},{"well":1640,"fold":1.025},{"well":1644,"fold":0.995},{"well":1646,"fold":1.005},{"well":1650,"fold":0.975},
{"well":1652,"fold":1.03},{"well":1656,"fold":0.985},{"well":1658,"fold":1.01},{"well":1662,"fold":0.965},{"well":1664,"fold":1.0},{"well":1668,"fold":1.02},{"well":1670,"fold":0.98},{"well":1674,"fold":0.995},{"well":1676,"fold":0.95},{"well":1680,"fold":1.01}
]
},
"layer": [
  {
    "data": {"name": "wells"},
    "mark": {"type": "point", "shape": "diamond", "filled": true, "size": 55, "color": "#8080c0", "opacity": 1},
    "encoding": {
      "x": {"field": "well", "type": "quantitative", "scale": {"domain": [0, 1800], "nice": false}, "axis": {"title": "Well ID", "format": "d", "values": [0, 200, 400, 600, 800, 1000, 1200, 1400, 1600, 1800], "labelPadding": 10, "titleX": 267, "titlePadding": 28}},
      "y": {"field": "fold", "type": "quantitative", "scale": {"domain": [0.8, 1.4], "nice": false, "zero": false}, "axis": {"title": "Fold Increase in GFP Fluoresence", "format": ".2f", "values": [0.8, 0.9, 1.0, 1.1, 1.2, 1.3, 1.4], "labelPadding": 8, "titleY": 156, "titlePadding": 27}}
    }
  },
  {
    "data": {"name": "hits"},
    "mark": {"type": "point", "shape": "diamond", "filled": true, "size": 80, "color": "#e6007e", "opacity": 1},
    "encoding": {
      "x": {"field": "well", "type": "quantitative"},
      "y": {"field": "fold", "type": "quantitative"}
    }
  },
  {
    "data": {"name": "hits"},
    "mark": {"type": "text", "angle": 270, "align": "left", "baseline": "middle", "dx": 20, "fontSize": 21, "font": "Liberation Sans", "color": "#000000"},
    "encoding": {
      "x": {"field": "well", "type": "quantitative"},
      "y": {"field": "fold", "type": "quantitative"},
      "text": {"field": "label"}
    }
  }
]
}
